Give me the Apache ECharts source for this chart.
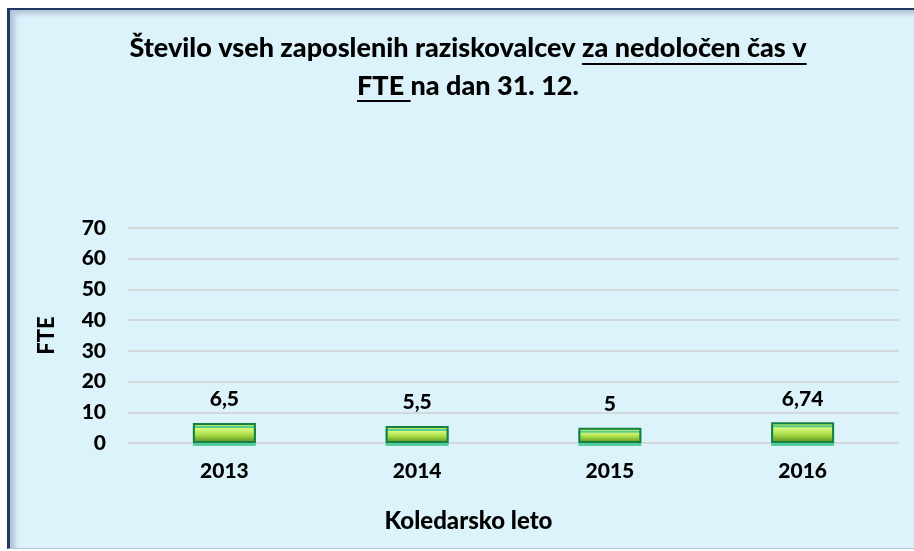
<!DOCTYPE html>
<html>
<head>
<meta charset="utf-8">
<script src="https://cdn.jsdelivr.net/npm/echarts@6/dist/echarts.min.js"></script>
<style>
  html, body { margin: 0; padding: 0; background: #ffffff; }
  #frame {
    position: absolute; left: 7px; top: 8px; width: 907px; height: 541px;
    background: #ddf3fc;
    border-left: 3px solid #1f3864; border-top: 2px solid #1f3864;
    border-bottom: 1px solid #b8c4cc;
    box-sizing: border-box;
    box-shadow: inset 5px 4px 5px rgba(120,140,170,0.45);
  }
  #main { position: absolute; left: 0; top: 0; width: 914px; height: 551px; }
</style>
</head>
<body>
<div id="frame"></div>
<div id="main"></div>
<script>
// podatki
const years = ['2013', '2014', '2015', '2016'];
const fte = [6.5, 5.5, 5, 6.74];
const yTicks = [0, 10, 20, 30, 40, 50, 60, 70];

const titleA = 'Število vseh zaposlenih raziskovalcev ';
const titleB = 'za nedoločen čas v';
const titleC = 'FTE ';
const titleD = 'na dan 31. 12.';

const font = 'Lato, "Open Sans", sans-serif';
const fw = 900;
const titleSize = 27;
const titleCx = 468;
const titleTop = 29;
const titleLH = 38;

// širina besedila za podčrtaje
const ctx = document.createElement('canvas').getContext('2d');
ctx.font = fw + ' ' + titleSize + 'px ' + font;
const w = s => ctx.measureText(s).width;
const l1 = titleCx - w(titleA + titleB) / 2;
const l2 = titleCx - w(titleC + titleD) / 2;

let myChart = echarts.init(document.getElementById('main'));

const rt = { fontFamily: font, fontSize: titleSize, fontWeight: fw, color: '#000', lineHeight: titleLH };

myChart.setOption({
  backgroundColor: 'transparent',
  textStyle: { fontFamily: font },
  title: {
    text: '{a|' + titleA + titleB + '}\n{a|' + titleC + titleD + '}',
    left: titleCx,
    textAlign: 'center',
    top: titleTop,
    padding: 0,
    textStyle: { rich: { a: rt } }
  },
  graphic: [
    {
      type: 'line',
      shape: { x1: l1 + w(titleA), y1: 64, x2: l1 + w(titleA + titleB), y2: 64 },
      style: { stroke: '#000', lineWidth: 2 }
    },
    {
      type: 'line',
      shape: { x1: l2, y1: 101, x2: l2 + w(titleC), y2: 101 },
      style: { stroke: '#000', lineWidth: 2 }
    }
  ],
  grid: { left: 128, right: 15, top: 228, bottom: 108 },
  xAxis: {
    type: 'category',
    data: years,
    axisLine: { show: false },
    axisTick: { show: false },
    axisLabel: { margin: 18, fontSize: 21, fontWeight: fw, color: '#000', fontFamily: font },
    name: 'Koledarsko leto',
    nameLocation: 'middle',
    nameGap: 66,
    nameTextStyle: { fontSize: 24, fontWeight: fw, color: '#000', fontFamily: font, padding: [0, 90, 0, 0] }
  },
  yAxis: {
    type: 'value',
    min: yTicks[0],
    max: yTicks[yTicks.length - 1],
    interval: 10,
    axisLine: { show: false },
    axisTick: { show: false },
    splitLine: { lineStyle: { color: '#d4d8da', width: 2 } },
    axisLabel: { margin: 22, fontSize: 21, fontWeight: fw, color: '#000', fontFamily: font },
    name: 'FTE',
    nameLocation: 'middle',
    nameGap: 70,
    nameRotate: 90,
    nameTextStyle: { fontSize: 22, fontWeight: fw, color: '#000', fontFamily: font }
  },
  series: [
    {
      type: 'bar',
      data: fte,
      barWidth: 63,
      itemStyle: {
        color: new echarts.graphic.LinearGradient(0, 0, 0, 1, [
          { offset: 0, color: '#9fd84e' },
          { offset: 0.3, color: '#d6f87c' },
          { offset: 0.6, color: '#a9dc46' },
          { offset: 1, color: '#55891f' }
        ]),
        borderColor: '#167f42',
        borderWidth: 2,
        shadowColor: 'rgba(70,200,150,0.85)',
        shadowOffsetY: 3
      },
      label: {
        show: true,
        position: 'top',
        distance: 13,
        fontSize: 21,
        fontWeight: fw,
        color: '#000',
        fontFamily: font,
        formatter: p => String(p.value).replace('.', ',')
      }
    }
  ]
});

window.onresize = function () {
  myChart.resize();
};
</script>
</body>
</html>
